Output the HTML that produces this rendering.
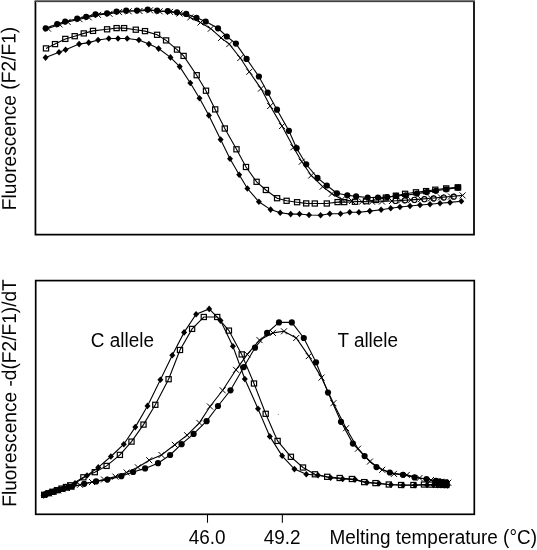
<!DOCTYPE html>
<html><head><meta charset="utf-8"><title>Melting curves</title>
<style>
html,body{margin:0;padding:0;background:#fff;}
body{width:537px;height:550px;position:relative;overflow:hidden;font-family:"Liberation Sans",sans-serif;}
</style></head><body>
<svg width="537" height="550" viewBox="0 0 537 550" style="position:absolute;left:0;top:0">
<path d="M35.45 1V234.65H474V1" fill="none" stroke="#000" stroke-width="1.75" stroke-linejoin="miter"/>
<path d="M34.6 0.5H474.9" fill="none" stroke="#787878" stroke-width="1"/><path d="M34.6 1.5H474.9" fill="none" stroke="#404040" stroke-width="1"/><path d="M36.4 2.5H473" fill="none" stroke="#e4e4e4" stroke-width="1"/>
<rect x="35.7" y="280.6" width="438.6" height="233.7" fill="none" stroke="#000" stroke-width="1.7"/>
<path d="M207.5 514V522.8M282.35 514V522.8" stroke="#000" stroke-width="1.05" fill="none"/>
<polyline fill="none" stroke="#000" stroke-width="1.1" points="46.0,48.4 55.0,44.1 65.3,38.9 74.7,36.2 83.8,33.4 93.0,30.9 107.1,29.3 116.6,28.1 124.1,28.1 135.8,29.7 145.0,31.1 157.1,34.8 166.1,40.4 177.0,49.6 183.6,55.9 196.7,75.2 206.0,90.7 215.2,109.4 224.8,128.5 236.5,149.3 246.0,167.0 256.6,181.8 265.9,190.0 277.1,198.2 286.6,200.8 297.1,202.2 306.2,203.4 314.8,203.5 326.8,203.5 337.6,202.1 344.2,202.1 355.0,201.8 366.0,201.2 376.0,200.0 385.9,197.6 395.9,195.7 405.1,193.8 416.0,192.3 426.1,191.1 435.3,189.7 446.2,188.4 457.9,187.4"/>
<rect x="43.40" y="45.85" width="5.20" height="5.10" fill="none" stroke="#000" stroke-width="1.2"/><rect x="52.40" y="41.55" width="5.20" height="5.10" fill="none" stroke="#000" stroke-width="1.2"/><rect x="62.70" y="36.35" width="5.20" height="5.10" fill="none" stroke="#000" stroke-width="1.2"/><rect x="72.10" y="33.65" width="5.20" height="5.10" fill="none" stroke="#000" stroke-width="1.2"/><rect x="81.20" y="30.85" width="5.20" height="5.10" fill="none" stroke="#000" stroke-width="1.2"/><rect x="90.40" y="28.35" width="5.20" height="5.10" fill="none" stroke="#000" stroke-width="1.2"/><rect x="104.50" y="26.75" width="5.20" height="5.10" fill="none" stroke="#000" stroke-width="1.2"/><rect x="114.00" y="25.55" width="5.20" height="5.10" fill="none" stroke="#000" stroke-width="1.2"/><rect x="121.50" y="25.55" width="5.20" height="5.10" fill="none" stroke="#000" stroke-width="1.2"/><rect x="133.20" y="27.15" width="5.20" height="5.10" fill="none" stroke="#000" stroke-width="1.2"/><rect x="142.40" y="28.55" width="5.20" height="5.10" fill="none" stroke="#000" stroke-width="1.2"/><rect x="154.50" y="32.25" width="5.20" height="5.10" fill="none" stroke="#000" stroke-width="1.2"/><rect x="163.50" y="37.85" width="5.20" height="5.10" fill="none" stroke="#000" stroke-width="1.2"/><rect x="174.40" y="47.05" width="5.20" height="5.10" fill="none" stroke="#000" stroke-width="1.2"/><rect x="181.00" y="53.35" width="5.20" height="5.10" fill="none" stroke="#000" stroke-width="1.2"/><rect x="194.10" y="72.65" width="5.20" height="5.10" fill="none" stroke="#000" stroke-width="1.2"/><rect x="203.40" y="88.15" width="5.20" height="5.10" fill="none" stroke="#000" stroke-width="1.2"/><rect x="212.60" y="106.85" width="5.20" height="5.10" fill="none" stroke="#000" stroke-width="1.2"/><rect x="222.20" y="125.95" width="5.20" height="5.10" fill="none" stroke="#000" stroke-width="1.2"/><rect x="233.90" y="146.75" width="5.20" height="5.10" fill="none" stroke="#000" stroke-width="1.2"/><rect x="243.40" y="164.45" width="5.20" height="5.10" fill="none" stroke="#000" stroke-width="1.2"/><rect x="254.00" y="179.25" width="5.20" height="5.10" fill="none" stroke="#000" stroke-width="1.2"/><rect x="263.30" y="187.45" width="5.20" height="5.10" fill="none" stroke="#000" stroke-width="1.2"/><rect x="274.50" y="195.65" width="5.20" height="5.10" fill="none" stroke="#000" stroke-width="1.2"/><rect x="284.00" y="198.25" width="5.20" height="5.10" fill="none" stroke="#000" stroke-width="1.2"/><rect x="294.50" y="199.65" width="5.20" height="5.10" fill="none" stroke="#000" stroke-width="1.2"/><rect x="303.60" y="200.85" width="5.20" height="5.10" fill="none" stroke="#000" stroke-width="1.2"/><rect x="312.20" y="200.95" width="5.20" height="5.10" fill="none" stroke="#000" stroke-width="1.2"/><rect x="324.20" y="200.95" width="5.20" height="5.10" fill="none" stroke="#000" stroke-width="1.2"/><rect x="335.00" y="199.55" width="5.20" height="5.10" fill="none" stroke="#000" stroke-width="1.2"/><rect x="341.60" y="199.55" width="5.20" height="5.10" fill="none" stroke="#000" stroke-width="1.2"/><rect x="352.40" y="199.25" width="5.20" height="5.10" fill="none" stroke="#000" stroke-width="1.2"/><rect x="363.40" y="198.65" width="5.20" height="5.10" fill="none" stroke="#000" stroke-width="1.2"/><rect x="373.40" y="197.45" width="5.20" height="5.10" fill="none" stroke="#000" stroke-width="1.2"/><rect x="383.30" y="195.05" width="5.20" height="5.10" fill="none" stroke="#000" stroke-width="1.2"/><rect x="393.30" y="193.15" width="5.20" height="5.10" fill="none" stroke="#000" stroke-width="1.2"/><rect x="402.50" y="191.25" width="5.20" height="5.10" fill="none" stroke="#000" stroke-width="1.2"/><rect x="413.40" y="189.75" width="5.20" height="5.10" fill="none" stroke="#000" stroke-width="1.2"/><rect x="423.50" y="188.55" width="5.20" height="5.10" fill="none" stroke="#000" stroke-width="1.2"/><rect x="432.70" y="187.15" width="5.20" height="5.10" fill="none" stroke="#000" stroke-width="1.2"/><rect x="443.60" y="185.85" width="5.20" height="5.10" fill="none" stroke="#000" stroke-width="1.2"/><rect x="455.30" y="184.85" width="5.20" height="5.10" fill="none" stroke="#000" stroke-width="1.2"/>
<polyline fill="none" stroke="#000" stroke-width="1.1" points="45.6,57.6 59.0,52.3 65.6,49.8 79.1,44.1 88.7,42.6 98.1,40.0 108.8,38.5 118.0,38.5 127.2,38.5 138.9,40.0 148.9,44.1 158.6,48.6 170.5,57.4 179.7,66.6 190.3,83.0 199.5,98.2 208.9,115.4 220.6,139.6 230.0,158.8 239.2,174.8 247.4,188.5 258.9,201.8 270.6,209.6 280.2,212.7 290.7,214.1 299.5,214.0 309.0,215.0 320.6,215.2 329.8,213.8 340.5,213.8 349.7,212.3 358.9,212.3 369.8,211.1 381.1,209.7 390.7,208.2 399.9,207.0 410.0,206.0 420.0,205.0 430.0,204.2 440.0,203.3 450.0,202.4 461.3,201.3"/>
<path d="M42.6 57.6L45.6 54.3L48.6 57.6L45.6 60.9Z"/><path d="M56.0 52.3L59.0 49.0L62.0 52.3L59.0 55.6Z"/><path d="M62.6 49.8L65.6 46.5L68.6 49.8L65.6 53.1Z"/><path d="M76.1 44.1L79.1 40.8L82.1 44.1L79.1 47.4Z"/><path d="M85.7 42.6L88.7 39.3L91.7 42.6L88.7 45.9Z"/><path d="M95.1 40.0L98.1 36.7L101.1 40.0L98.1 43.3Z"/><path d="M105.8 38.5L108.8 35.2L111.8 38.5L108.8 41.8Z"/><path d="M115.0 38.5L118.0 35.2L121.0 38.5L118.0 41.8Z"/><path d="M124.2 38.5L127.2 35.2L130.2 38.5L127.2 41.8Z"/><path d="M135.9 40.0L138.9 36.7L141.9 40.0L138.9 43.3Z"/><path d="M145.9 44.1L148.9 40.8L151.9 44.1L148.9 47.4Z"/><path d="M155.6 48.6L158.6 45.3L161.6 48.6L158.6 51.9Z"/><path d="M167.5 57.4L170.5 54.1L173.5 57.4L170.5 60.7Z"/><path d="M176.7 66.6L179.7 63.3L182.7 66.6L179.7 69.9Z"/><path d="M187.3 83.0L190.3 79.7L193.3 83.0L190.3 86.3Z"/><path d="M196.5 98.2L199.5 94.9L202.5 98.2L199.5 101.5Z"/><path d="M205.9 115.4L208.9 112.1L211.9 115.4L208.9 118.7Z"/><path d="M217.6 139.6L220.6 136.3L223.6 139.6L220.6 142.9Z"/><path d="M227.0 158.8L230.0 155.5L233.0 158.8L230.0 162.1Z"/><path d="M236.2 174.8L239.2 171.5L242.2 174.8L239.2 178.1Z"/><path d="M244.4 188.5L247.4 185.2L250.4 188.5L247.4 191.8Z"/><path d="M255.9 201.8L258.9 198.5L261.9 201.8L258.9 205.1Z"/><path d="M267.6 209.6L270.6 206.3L273.6 209.6L270.6 212.9Z"/><path d="M277.2 212.7L280.2 209.4L283.2 212.7L280.2 216.0Z"/><path d="M287.7 214.1L290.7 210.8L293.7 214.1L290.7 217.4Z"/><path d="M296.5 214.0L299.5 210.7L302.5 214.0L299.5 217.3Z"/><path d="M306.0 215.0L309.0 211.7L312.0 215.0L309.0 218.3Z"/><path d="M317.6 215.2L320.6 211.9L323.6 215.2L320.6 218.5Z"/><path d="M326.8 213.8L329.8 210.5L332.8 213.8L329.8 217.1Z"/><path d="M337.5 213.8L340.5 210.5L343.5 213.8L340.5 217.1Z"/><path d="M346.7 212.3L349.7 209.0L352.7 212.3L349.7 215.6Z"/><path d="M355.9 212.3L358.9 209.0L361.9 212.3L358.9 215.6Z"/><path d="M366.8 211.1L369.8 207.8L372.8 211.1L369.8 214.4Z"/><path d="M378.1 209.7L381.1 206.4L384.1 209.7L381.1 213.0Z"/><path d="M387.7 208.2L390.7 204.9L393.7 208.2L390.7 211.5Z"/><path d="M396.9 207.0L399.9 203.7L402.9 207.0L399.9 210.3Z"/><path d="M407.0 206.0L410.0 202.7L413.0 206.0L410.0 209.3Z"/><path d="M417.0 205.0L420.0 201.7L423.0 205.0L420.0 208.3Z"/><path d="M427.0 204.2L430.0 200.9L433.0 204.2L430.0 207.5Z"/><path d="M437.0 203.3L440.0 200.0L443.0 203.3L440.0 206.6Z"/><path d="M447.0 202.4L450.0 199.1L453.0 202.4L450.0 205.7Z"/><path d="M458.3 201.3L461.3 198.0L464.3 201.3L461.3 204.6Z"/>
<polyline fill="none" stroke="#000" stroke-width="1.1" points="48.0,28.6 59.5,24.4 67.6,21.9 79.5,19.2 88.6,17.3 98.0,14.9 109.5,13.8 119.0,12.1 128.7,11.3 139.5,11.0 150.0,10.3 159.6,11.3 170.0,11.9 179.5,13.5 190.3,17.4 200.5,22.5 210.8,28.7 221.1,37.9 229.3,44.1 240.3,58.0 249.3,71.8 261.0,88.6 270.2,106.0 282.0,126.1 293.4,147.3 301.8,161.7 311.2,175.5 322.7,186.7 331.9,193.7 342.0,199.4 352.0,201.0 362.0,201.7 372.0,201.7 382.0,201.5 392.0,201.0 401.0,200.5 411.0,199.9 421.0,199.1 431.0,198.3 441.0,197.4 451.0,196.5 462.6,195.4"/>
<path d="M45.0 25.6L51.0 31.6M45.0 31.6L51.0 25.6" stroke="#000" stroke-width="1" fill="none"/><path d="M56.5 21.4L62.5 27.4M56.5 27.4L62.5 21.4" stroke="#000" stroke-width="1" fill="none"/><path d="M64.6 18.9L70.6 24.9M64.6 24.9L70.6 18.9" stroke="#000" stroke-width="1" fill="none"/><path d="M76.5 16.2L82.5 22.2M76.5 22.2L82.5 16.2" stroke="#000" stroke-width="1" fill="none"/><path d="M85.6 14.3L91.6 20.3M85.6 20.3L91.6 14.3" stroke="#000" stroke-width="1" fill="none"/><path d="M95.0 11.9L101.0 17.9M95.0 17.9L101.0 11.9" stroke="#000" stroke-width="1" fill="none"/><path d="M106.5 10.8L112.5 16.8M106.5 16.8L112.5 10.8" stroke="#000" stroke-width="1" fill="none"/><path d="M116.0 9.1L122.0 15.1M116.0 15.1L122.0 9.1" stroke="#000" stroke-width="1" fill="none"/><path d="M125.7 8.3L131.7 14.3M125.7 14.3L131.7 8.3" stroke="#000" stroke-width="1" fill="none"/><path d="M136.5 8.0L142.5 14.0M136.5 14.0L142.5 8.0" stroke="#000" stroke-width="1" fill="none"/><path d="M147.0 7.3L153.0 13.3M147.0 13.3L153.0 7.3" stroke="#000" stroke-width="1" fill="none"/><path d="M156.6 8.3L162.6 14.3M156.6 14.3L162.6 8.3" stroke="#000" stroke-width="1" fill="none"/><path d="M167.0 8.9L173.0 14.9M167.0 14.9L173.0 8.9" stroke="#000" stroke-width="1" fill="none"/><path d="M176.5 10.5L182.5 16.5M176.5 16.5L182.5 10.5" stroke="#000" stroke-width="1" fill="none"/><path d="M187.3 14.4L193.3 20.4M187.3 20.4L193.3 14.4" stroke="#000" stroke-width="1" fill="none"/><path d="M197.5 19.5L203.5 25.5M197.5 25.5L203.5 19.5" stroke="#000" stroke-width="1" fill="none"/><path d="M207.8 25.7L213.8 31.7M207.8 31.7L213.8 25.7" stroke="#000" stroke-width="1" fill="none"/><path d="M218.1 34.9L224.1 40.9M218.1 40.9L224.1 34.9" stroke="#000" stroke-width="1" fill="none"/><path d="M226.3 41.1L232.3 47.1M226.3 47.1L232.3 41.1" stroke="#000" stroke-width="1" fill="none"/><path d="M237.3 55.0L243.3 61.0M237.3 61.0L243.3 55.0" stroke="#000" stroke-width="1" fill="none"/><path d="M246.3 68.8L252.3 74.8M246.3 74.8L252.3 68.8" stroke="#000" stroke-width="1" fill="none"/><path d="M258.0 85.6L264.0 91.6M258.0 91.6L264.0 85.6" stroke="#000" stroke-width="1" fill="none"/><path d="M267.2 103.0L273.2 109.0M267.2 109.0L273.2 103.0" stroke="#000" stroke-width="1" fill="none"/><path d="M279.0 123.1L285.0 129.1M279.0 129.1L285.0 123.1" stroke="#000" stroke-width="1" fill="none"/><path d="M290.4 144.3L296.4 150.3M290.4 150.3L296.4 144.3" stroke="#000" stroke-width="1" fill="none"/><path d="M298.8 158.7L304.8 164.7M298.8 164.7L304.8 158.7" stroke="#000" stroke-width="1" fill="none"/><path d="M308.2 172.5L314.2 178.5M308.2 178.5L314.2 172.5" stroke="#000" stroke-width="1" fill="none"/><path d="M319.7 183.7L325.7 189.7M319.7 189.7L325.7 183.7" stroke="#000" stroke-width="1" fill="none"/><path d="M328.9 190.7L334.9 196.7M328.9 196.7L334.9 190.7" stroke="#000" stroke-width="1" fill="none"/><path d="M339.0 196.4L345.0 202.4M339.0 202.4L345.0 196.4" stroke="#000" stroke-width="1" fill="none"/><path d="M349.0 198.0L355.0 204.0M349.0 204.0L355.0 198.0" stroke="#000" stroke-width="1" fill="none"/><path d="M359.0 198.7L365.0 204.7M359.0 204.7L365.0 198.7" stroke="#000" stroke-width="1" fill="none"/><path d="M369.0 198.7L375.0 204.7M369.0 204.7L375.0 198.7" stroke="#000" stroke-width="1" fill="none"/><path d="M379.0 198.5L385.0 204.5M379.0 204.5L385.0 198.5" stroke="#000" stroke-width="1" fill="none"/><path d="M389.0 198.0L395.0 204.0M389.0 204.0L395.0 198.0" stroke="#000" stroke-width="1" fill="none"/><path d="M398.0 197.5L404.0 203.5M398.0 203.5L404.0 197.5" stroke="#000" stroke-width="1" fill="none"/><path d="M408.0 196.9L414.0 202.9M408.0 202.9L414.0 196.9" stroke="#000" stroke-width="1" fill="none"/><path d="M418.0 196.1L424.0 202.1M418.0 202.1L424.0 196.1" stroke="#000" stroke-width="1" fill="none"/><path d="M428.0 195.3L434.0 201.3M428.0 201.3L434.0 195.3" stroke="#000" stroke-width="1" fill="none"/><path d="M438.0 194.4L444.0 200.4M438.0 200.4L444.0 194.4" stroke="#000" stroke-width="1" fill="none"/><path d="M448.0 193.5L454.0 199.5M448.0 199.5L454.0 193.5" stroke="#000" stroke-width="1" fill="none"/><path d="M459.6 192.4L465.6 198.4M459.6 198.4L465.6 192.4" stroke="#000" stroke-width="1" fill="none"/>
<polyline fill="none" stroke="#000" stroke-width="1.1" points="45.7,28.3 57.2,24.1 65.2,21.5 77.2,18.7 86.2,16.8 95.5,14.3 107.1,13.3 116.6,11.5 126.2,10.7 137.0,10.5 147.7,9.6 157.1,10.7 167.8,11.1 177.0,12.3 186.2,13.9 196.5,17.8 205.7,21.5 218.0,28.3 226.8,36.5 235.9,43.6 246.6,58.9 258.9,76.5 267.7,92.7 277.0,109.7 288.9,130.8 296.6,148.2 306.2,164.3 317.5,177.9 326.8,185.5 337.0,193.3 347.3,195.3 356.1,196.4 367.7,197.5 378.0,197.5 387.2,197.1 396.4,195.8 405.9,195.3 416.9,193.6 426.7,192.1 435.9,190.8 446.3,189.3 458.0,187.6"/>
<circle cx="45.7" cy="28.3" r="3.1"/><circle cx="57.2" cy="24.1" r="3.1"/><circle cx="65.2" cy="21.5" r="3.1"/><circle cx="77.2" cy="18.7" r="3.1"/><circle cx="86.2" cy="16.8" r="3.1"/><circle cx="95.5" cy="14.3" r="3.1"/><circle cx="107.1" cy="13.3" r="3.1"/><circle cx="116.6" cy="11.5" r="3.1"/><circle cx="126.2" cy="10.7" r="3.1"/><circle cx="137.0" cy="10.5" r="3.1"/><circle cx="147.7" cy="9.6" r="3.1"/><circle cx="157.1" cy="10.7" r="3.1"/><circle cx="167.8" cy="11.1" r="3.1"/><circle cx="177.0" cy="12.3" r="3.1"/><circle cx="186.2" cy="13.9" r="3.1"/><circle cx="196.5" cy="17.8" r="3.1"/><circle cx="205.7" cy="21.5" r="3.1"/><circle cx="218.0" cy="28.3" r="3.1"/><circle cx="226.8" cy="36.5" r="3.1"/><circle cx="235.9" cy="43.6" r="3.1"/><circle cx="246.6" cy="58.9" r="3.1"/><circle cx="258.9" cy="76.5" r="3.1"/><circle cx="267.7" cy="92.7" r="3.1"/><circle cx="277.0" cy="109.7" r="3.1"/><circle cx="288.9" cy="130.8" r="3.1"/><circle cx="296.6" cy="148.2" r="3.1"/><circle cx="306.2" cy="164.3" r="3.1"/><circle cx="317.5" cy="177.9" r="3.1"/><circle cx="326.8" cy="185.5" r="3.1"/><circle cx="337.0" cy="193.3" r="3.1"/><circle cx="347.3" cy="195.3" r="3.1"/><circle cx="356.1" cy="196.4" r="3.1"/><circle cx="367.7" cy="197.5" r="3.1"/><circle cx="378.0" cy="197.5" r="3.1"/><circle cx="387.2" cy="197.1" r="3.1"/><circle cx="396.4" cy="195.8" r="3.1"/><circle cx="405.9" cy="195.3" r="3.1"/><circle cx="416.9" cy="193.6" r="3.1"/><circle cx="426.7" cy="192.1" r="3.1"/><circle cx="435.9" cy="190.8" r="3.1"/><circle cx="446.3" cy="189.3" r="3.1"/><circle cx="458.0" cy="187.6" r="3.1"/>
<polyline fill="none" stroke="#000" stroke-width="1.1" points="44.2,494.8 48.5,493.2 52.5,491.8 57.0,490.2 61.5,488.6 66.0,487.0 70.3,485.3 83.4,477.3 94.8,472.2 106.6,465.9 119.9,454.9 131.5,441.6 143.5,424.6 155.3,404.8 168.6,379.2 180.0,350.0 192.1,328.9 203.8,317.0 217.2,317.0 228.9,330.6 241.7,354.4 254.0,383.5 265.7,413.8 277.6,440.9 290.9,456.8 303.0,467.5 314.9,474.3 327.2,476.8 339.7,478.0 351.9,479.0 364.2,482.1 375.5,483.1 388.8,484.5 401.1,485.0 413.4,485.0 424.0,484.5 430.5,484.6 436.0,484.7 439.5,484.8 443.0,484.9 446.3,485.0"/>
<rect x="41.60" y="492.25" width="5.20" height="5.10" fill="none" stroke="#000" stroke-width="1.2"/><rect x="45.90" y="490.65" width="5.20" height="5.10" fill="none" stroke="#000" stroke-width="1.2"/><rect x="49.90" y="489.25" width="5.20" height="5.10" fill="none" stroke="#000" stroke-width="1.2"/><rect x="54.40" y="487.65" width="5.20" height="5.10" fill="none" stroke="#000" stroke-width="1.2"/><rect x="58.90" y="486.05" width="5.20" height="5.10" fill="none" stroke="#000" stroke-width="1.2"/><rect x="63.40" y="484.45" width="5.20" height="5.10" fill="none" stroke="#000" stroke-width="1.2"/><rect x="67.70" y="482.75" width="5.20" height="5.10" fill="none" stroke="#000" stroke-width="1.2"/><rect x="80.80" y="474.75" width="5.20" height="5.10" fill="none" stroke="#000" stroke-width="1.2"/><rect x="92.20" y="469.65" width="5.20" height="5.10" fill="none" stroke="#000" stroke-width="1.2"/><rect x="104.00" y="463.35" width="5.20" height="5.10" fill="none" stroke="#000" stroke-width="1.2"/><rect x="117.30" y="452.35" width="5.20" height="5.10" fill="none" stroke="#000" stroke-width="1.2"/><rect x="128.90" y="439.05" width="5.20" height="5.10" fill="none" stroke="#000" stroke-width="1.2"/><rect x="140.90" y="422.05" width="5.20" height="5.10" fill="none" stroke="#000" stroke-width="1.2"/><rect x="152.70" y="402.25" width="5.20" height="5.10" fill="none" stroke="#000" stroke-width="1.2"/><rect x="166.00" y="376.65" width="5.20" height="5.10" fill="none" stroke="#000" stroke-width="1.2"/><rect x="177.40" y="347.45" width="5.20" height="5.10" fill="none" stroke="#000" stroke-width="1.2"/><rect x="189.50" y="326.35" width="5.20" height="5.10" fill="none" stroke="#000" stroke-width="1.2"/><rect x="201.20" y="314.45" width="5.20" height="5.10" fill="none" stroke="#000" stroke-width="1.2"/><rect x="214.60" y="314.45" width="5.20" height="5.10" fill="none" stroke="#000" stroke-width="1.2"/><rect x="226.30" y="328.05" width="5.20" height="5.10" fill="none" stroke="#000" stroke-width="1.2"/><rect x="239.10" y="351.85" width="5.20" height="5.10" fill="none" stroke="#000" stroke-width="1.2"/><rect x="251.40" y="380.95" width="5.20" height="5.10" fill="none" stroke="#000" stroke-width="1.2"/><rect x="263.10" y="411.25" width="5.20" height="5.10" fill="none" stroke="#000" stroke-width="1.2"/><rect x="275.00" y="438.35" width="5.20" height="5.10" fill="none" stroke="#000" stroke-width="1.2"/><rect x="288.30" y="454.25" width="5.20" height="5.10" fill="none" stroke="#000" stroke-width="1.2"/><rect x="300.40" y="464.95" width="5.20" height="5.10" fill="none" stroke="#000" stroke-width="1.2"/><rect x="312.30" y="471.75" width="5.20" height="5.10" fill="none" stroke="#000" stroke-width="1.2"/><rect x="324.60" y="474.25" width="5.20" height="5.10" fill="none" stroke="#000" stroke-width="1.2"/><rect x="337.10" y="475.45" width="5.20" height="5.10" fill="none" stroke="#000" stroke-width="1.2"/><rect x="349.30" y="476.45" width="5.20" height="5.10" fill="none" stroke="#000" stroke-width="1.2"/><rect x="361.60" y="479.55" width="5.20" height="5.10" fill="none" stroke="#000" stroke-width="1.2"/><rect x="372.90" y="480.55" width="5.20" height="5.10" fill="none" stroke="#000" stroke-width="1.2"/><rect x="386.20" y="481.95" width="5.20" height="5.10" fill="none" stroke="#000" stroke-width="1.2"/><rect x="398.50" y="482.45" width="5.20" height="5.10" fill="none" stroke="#000" stroke-width="1.2"/><rect x="410.80" y="482.45" width="5.20" height="5.10" fill="none" stroke="#000" stroke-width="1.2"/><rect x="421.40" y="481.95" width="5.20" height="5.10" fill="none" stroke="#000" stroke-width="1.2"/><rect x="427.90" y="482.05" width="5.20" height="5.10" fill="none" stroke="#000" stroke-width="1.2"/><rect x="433.40" y="482.15" width="5.20" height="5.10" fill="none" stroke="#000" stroke-width="1.2"/><rect x="436.90" y="482.25" width="5.20" height="5.10" fill="none" stroke="#000" stroke-width="1.2"/><rect x="440.40" y="482.35" width="5.20" height="5.10" fill="none" stroke="#000" stroke-width="1.2"/><rect x="443.70" y="482.45" width="5.20" height="5.10" fill="none" stroke="#000" stroke-width="1.2"/>
<polyline fill="none" stroke="#000" stroke-width="1.1" points="43.6,495.4 47.5,494.0 51.5,492.4 55.5,491.0 59.5,489.5 64.0,488.0 68.5,486.2 75.0,483.2 87.0,475.5 98.3,467.4 110.9,456.5 123.8,444.2 135.3,427.1 147.5,405.9 160.4,379.8 172.3,355.2 184.1,332.4 196.1,314.3 209.2,308.9 220.5,320.6 232.9,346.2 244.8,379.0 258.0,408.7 269.8,436.4 282.1,455.8 294.4,469.1 306.3,474.3 318.0,475.3 330.6,477.8 342.7,479.0 355.0,479.6 367.0,482.5 379.0,483.5 391.0,484.7 403.0,485.2 415.0,485.2 427.0,485.0 433.5,485.0 437.5,485.1 441.0,485.2 444.5,485.3 447.5,485.5"/>
<path d="M40.6 495.4L43.6 492.1L46.6 495.4L43.6 498.7Z"/><path d="M44.5 494.0L47.5 490.7L50.5 494.0L47.5 497.3Z"/><path d="M48.5 492.4L51.5 489.1L54.5 492.4L51.5 495.7Z"/><path d="M52.5 491.0L55.5 487.7L58.5 491.0L55.5 494.3Z"/><path d="M56.5 489.5L59.5 486.2L62.5 489.5L59.5 492.8Z"/><path d="M61.0 488.0L64.0 484.7L67.0 488.0L64.0 491.3Z"/><path d="M65.5 486.2L68.5 482.9L71.5 486.2L68.5 489.5Z"/><path d="M72.0 483.2L75.0 479.9L78.0 483.2L75.0 486.5Z"/><path d="M84.0 475.5L87.0 472.2L90.0 475.5L87.0 478.8Z"/><path d="M95.3 467.4L98.3 464.1L101.3 467.4L98.3 470.7Z"/><path d="M107.9 456.5L110.9 453.2L113.9 456.5L110.9 459.8Z"/><path d="M120.8 444.2L123.8 440.9L126.8 444.2L123.8 447.5Z"/><path d="M132.3 427.1L135.3 423.8L138.3 427.1L135.3 430.4Z"/><path d="M144.5 405.9L147.5 402.6L150.5 405.9L147.5 409.2Z"/><path d="M157.4 379.8L160.4 376.5L163.4 379.8L160.4 383.1Z"/><path d="M169.3 355.2L172.3 351.9L175.3 355.2L172.3 358.5Z"/><path d="M181.1 332.4L184.1 329.1L187.1 332.4L184.1 335.7Z"/><path d="M193.1 314.3L196.1 311.0L199.1 314.3L196.1 317.6Z"/><path d="M206.2 308.9L209.2 305.6L212.2 308.9L209.2 312.2Z"/><path d="M217.5 320.6L220.5 317.3L223.5 320.6L220.5 323.9Z"/><path d="M229.9 346.2L232.9 342.9L235.9 346.2L232.9 349.5Z"/><path d="M241.8 379.0L244.8 375.7L247.8 379.0L244.8 382.3Z"/><path d="M255.0 408.7L258.0 405.4L261.0 408.7L258.0 412.0Z"/><path d="M266.8 436.4L269.8 433.1L272.8 436.4L269.8 439.7Z"/><path d="M279.1 455.8L282.1 452.5L285.1 455.8L282.1 459.1Z"/><path d="M291.4 469.1L294.4 465.8L297.4 469.1L294.4 472.4Z"/><path d="M303.3 474.3L306.3 471.0L309.3 474.3L306.3 477.6Z"/><path d="M315.0 475.3L318.0 472.0L321.0 475.3L318.0 478.6Z"/><path d="M327.6 477.8L330.6 474.5L333.6 477.8L330.6 481.1Z"/><path d="M339.7 479.0L342.7 475.7L345.7 479.0L342.7 482.3Z"/><path d="M352.0 479.6L355.0 476.3L358.0 479.6L355.0 482.9Z"/><path d="M364.0 482.5L367.0 479.2L370.0 482.5L367.0 485.8Z"/><path d="M376.0 483.5L379.0 480.2L382.0 483.5L379.0 486.8Z"/><path d="M388.0 484.7L391.0 481.4L394.0 484.7L391.0 488.0Z"/><path d="M400.0 485.2L403.0 481.9L406.0 485.2L403.0 488.5Z"/><path d="M412.0 485.2L415.0 481.9L418.0 485.2L415.0 488.5Z"/><path d="M424.0 485.0L427.0 481.7L430.0 485.0L427.0 488.3Z"/><path d="M430.5 485.0L433.5 481.7L436.5 485.0L433.5 488.3Z"/><path d="M434.5 485.1L437.5 481.8L440.5 485.1L437.5 488.4Z"/><path d="M438.0 485.2L441.0 481.9L444.0 485.2L441.0 488.5Z"/><path d="M441.5 485.3L444.5 482.0L447.5 485.3L444.5 488.6Z"/><path d="M444.5 485.5L447.5 482.2L450.5 485.5L447.5 488.8Z"/>
<polyline fill="none" stroke="#000" stroke-width="1.1" points="44.0,495.0 49.0,493.3 53.5,491.8 58.0,490.4 62.5,489.2 67.0,488.0 71.5,487.0 80.0,484.8 92.0,482.0 104.0,479.5 115.4,476.6 126.6,472.5 137.9,467.3 149.2,460.2 161.5,455.0 174.8,444.8 187.1,435.2 199.4,422.9 210.0,406.5 222.7,390.3 236.0,369.8 247.3,354.4 259.5,340.1 272.9,332.9 284.0,331.3 296.2,338.0 308.8,356.1 321.5,377.6 333.4,403.2 346.1,428.2 358.0,448.7 369.9,461.6 382.2,469.8 393.9,473.9 406.8,474.9 419.5,478.0 431.0,480.0 437.5,481.1 441.0,481.7 444.5,482.2 448.3,482.7"/>
<path d="M41.0 492.0L47.0 498.0M41.0 498.0L47.0 492.0" stroke="#000" stroke-width="1" fill="none"/><path d="M46.0 490.3L52.0 496.3M46.0 496.3L52.0 490.3" stroke="#000" stroke-width="1" fill="none"/><path d="M50.5 488.8L56.5 494.8M50.5 494.8L56.5 488.8" stroke="#000" stroke-width="1" fill="none"/><path d="M55.0 487.4L61.0 493.4M55.0 493.4L61.0 487.4" stroke="#000" stroke-width="1" fill="none"/><path d="M59.5 486.2L65.5 492.2M59.5 492.2L65.5 486.2" stroke="#000" stroke-width="1" fill="none"/><path d="M64.0 485.0L70.0 491.0M64.0 491.0L70.0 485.0" stroke="#000" stroke-width="1" fill="none"/><path d="M68.5 484.0L74.5 490.0M68.5 490.0L74.5 484.0" stroke="#000" stroke-width="1" fill="none"/><path d="M77.0 481.8L83.0 487.8M77.0 487.8L83.0 481.8" stroke="#000" stroke-width="1" fill="none"/><path d="M89.0 479.0L95.0 485.0M89.0 485.0L95.0 479.0" stroke="#000" stroke-width="1" fill="none"/><path d="M101.0 476.5L107.0 482.5M101.0 482.5L107.0 476.5" stroke="#000" stroke-width="1" fill="none"/><path d="M112.4 473.6L118.4 479.6M112.4 479.6L118.4 473.6" stroke="#000" stroke-width="1" fill="none"/><path d="M123.6 469.5L129.6 475.5M123.6 475.5L129.6 469.5" stroke="#000" stroke-width="1" fill="none"/><path d="M134.9 464.3L140.9 470.3M134.9 470.3L140.9 464.3" stroke="#000" stroke-width="1" fill="none"/><path d="M146.2 457.2L152.2 463.2M146.2 463.2L152.2 457.2" stroke="#000" stroke-width="1" fill="none"/><path d="M158.5 452.0L164.5 458.0M158.5 458.0L164.5 452.0" stroke="#000" stroke-width="1" fill="none"/><path d="M171.8 441.8L177.8 447.8M171.8 447.8L177.8 441.8" stroke="#000" stroke-width="1" fill="none"/><path d="M184.1 432.2L190.1 438.2M184.1 438.2L190.1 432.2" stroke="#000" stroke-width="1" fill="none"/><path d="M196.4 419.9L202.4 425.9M196.4 425.9L202.4 419.9" stroke="#000" stroke-width="1" fill="none"/><path d="M207.0 403.5L213.0 409.5M207.0 409.5L213.0 403.5" stroke="#000" stroke-width="1" fill="none"/><path d="M219.7 387.3L225.7 393.3M219.7 393.3L225.7 387.3" stroke="#000" stroke-width="1" fill="none"/><path d="M233.0 366.8L239.0 372.8M233.0 372.8L239.0 366.8" stroke="#000" stroke-width="1" fill="none"/><path d="M244.3 351.4L250.3 357.4M244.3 357.4L250.3 351.4" stroke="#000" stroke-width="1" fill="none"/><path d="M256.5 337.1L262.5 343.1M256.5 343.1L262.5 337.1" stroke="#000" stroke-width="1" fill="none"/><path d="M269.9 329.9L275.9 335.9M269.9 335.9L275.9 329.9" stroke="#000" stroke-width="1" fill="none"/><path d="M281.0 328.3L287.0 334.3M281.0 334.3L287.0 328.3" stroke="#000" stroke-width="1" fill="none"/><path d="M293.2 335.0L299.2 341.0M293.2 341.0L299.2 335.0" stroke="#000" stroke-width="1" fill="none"/><path d="M305.8 353.1L311.8 359.1M305.8 359.1L311.8 353.1" stroke="#000" stroke-width="1" fill="none"/><path d="M318.5 374.6L324.5 380.6M318.5 380.6L324.5 374.6" stroke="#000" stroke-width="1" fill="none"/><path d="M330.4 400.2L336.4 406.2M330.4 406.2L336.4 400.2" stroke="#000" stroke-width="1" fill="none"/><path d="M343.1 425.2L349.1 431.2M343.1 431.2L349.1 425.2" stroke="#000" stroke-width="1" fill="none"/><path d="M355.0 445.7L361.0 451.7M355.0 451.7L361.0 445.7" stroke="#000" stroke-width="1" fill="none"/><path d="M366.9 458.6L372.9 464.6M366.9 464.6L372.9 458.6" stroke="#000" stroke-width="1" fill="none"/><path d="M379.2 466.8L385.2 472.8M379.2 472.8L385.2 466.8" stroke="#000" stroke-width="1" fill="none"/><path d="M390.9 470.9L396.9 476.9M390.9 476.9L396.9 470.9" stroke="#000" stroke-width="1" fill="none"/><path d="M403.8 471.9L409.8 477.9M403.8 477.9L409.8 471.9" stroke="#000" stroke-width="1" fill="none"/><path d="M416.5 475.0L422.5 481.0M416.5 481.0L422.5 475.0" stroke="#000" stroke-width="1" fill="none"/><path d="M428.0 477.0L434.0 483.0M428.0 483.0L434.0 477.0" stroke="#000" stroke-width="1" fill="none"/><path d="M434.5 478.1L440.5 484.1M434.5 484.1L440.5 478.1" stroke="#000" stroke-width="1" fill="none"/><path d="M438.0 478.7L444.0 484.7M438.0 484.7L444.0 478.7" stroke="#000" stroke-width="1" fill="none"/><path d="M441.5 479.2L447.5 485.2M441.5 485.2L447.5 479.2" stroke="#000" stroke-width="1" fill="none"/><path d="M445.3 479.7L451.3 485.7M445.3 485.7L451.3 479.7" stroke="#000" stroke-width="1" fill="none"/>
<polyline fill="none" stroke="#000" stroke-width="1.1" points="45.5,494.0 50.0,492.6 54.5,491.3 59.0,490.0 63.5,488.8 67.8,487.7 72.0,486.7 84.2,483.8 96.1,481.4 107.4,479.6 121.3,476.2 133.1,472.0 145.1,468.4 158.0,463.2 170.1,455.0 181.6,444.2 193.6,433.9 206.6,421.2 218.0,406.0 230.5,390.3 243.8,367.1 255.0,347.7 267.1,332.9 279.0,322.4 291.8,322.4 303.8,338.0 316.0,362.3 328.0,392.6 341.0,421.8 352.9,443.6 364.6,456.1 376.5,467.1 389.8,472.5 402.9,474.8 414.6,477.4 426.5,479.0 436.0,480.9 439.5,481.5 443.0,482.0 446.5,482.4"/>
<circle cx="45.5" cy="494.0" r="3.1"/><circle cx="50.0" cy="492.6" r="3.1"/><circle cx="54.5" cy="491.3" r="3.1"/><circle cx="59.0" cy="490.0" r="3.1"/><circle cx="63.5" cy="488.8" r="3.1"/><circle cx="67.8" cy="487.7" r="3.1"/><circle cx="72.0" cy="486.7" r="3.1"/><circle cx="84.2" cy="483.8" r="3.1"/><circle cx="96.1" cy="481.4" r="3.1"/><circle cx="107.4" cy="479.6" r="3.1"/><circle cx="121.3" cy="476.2" r="3.1"/><circle cx="133.1" cy="472.0" r="3.1"/><circle cx="145.1" cy="468.4" r="3.1"/><circle cx="158.0" cy="463.2" r="3.1"/><circle cx="170.1" cy="455.0" r="3.1"/><circle cx="181.6" cy="444.2" r="3.1"/><circle cx="193.6" cy="433.9" r="3.1"/><circle cx="206.6" cy="421.2" r="3.1"/><circle cx="218.0" cy="406.0" r="3.1"/><circle cx="230.5" cy="390.3" r="3.1"/><circle cx="243.8" cy="367.1" r="3.1"/><circle cx="255.0" cy="347.7" r="3.1"/><circle cx="267.1" cy="332.9" r="3.1"/><circle cx="279.0" cy="322.4" r="3.1"/><circle cx="291.8" cy="322.4" r="3.1"/><circle cx="303.8" cy="338.0" r="3.1"/><circle cx="316.0" cy="362.3" r="3.1"/><circle cx="328.0" cy="392.6" r="3.1"/><circle cx="341.0" cy="421.8" r="3.1"/><circle cx="352.9" cy="443.6" r="3.1"/><circle cx="364.6" cy="456.1" r="3.1"/><circle cx="376.5" cy="467.1" r="3.1"/><circle cx="389.8" cy="472.5" r="3.1"/><circle cx="402.9" cy="474.8" r="3.1"/><circle cx="414.6" cy="477.4" r="3.1"/><circle cx="426.5" cy="479.0" r="3.1"/><circle cx="436.0" cy="480.9" r="3.1"/><circle cx="439.5" cy="481.5" r="3.1"/><circle cx="443.0" cy="482.0" r="3.1"/><circle cx="446.5" cy="482.4" r="3.1"/>
<rect x="454.7" y="184.6" width="6.5" height="5.8"/>
<circle cx="395.5" cy="200.9" r="2.6" fill="none" stroke="#000" stroke-width="1.1"/><circle cx="405.1" cy="200.3" r="2.6" fill="none" stroke="#000" stroke-width="1.1"/><circle cx="414.4" cy="199.9" r="2.6" fill="none" stroke="#000" stroke-width="1.1"/><circle cx="424.4" cy="199.2" r="2.6" fill="none" stroke="#000" stroke-width="1.1"/><circle cx="433.6" cy="198.5" r="2.6" fill="none" stroke="#000" stroke-width="1.1"/><circle cx="443.7" cy="197.6" r="2.6" fill="none" stroke="#000" stroke-width="1.1"/><circle cx="453.7" cy="196.7" r="2.6" fill="none" stroke="#000" stroke-width="1.1"/>
<circle cx="278.4" cy="414.4" r="0.6" fill="#999"/>
<g opacity="0.99">
<text font-family="Liberation Sans, sans-serif" font-size="20.0" fill="#000" transform="translate(16.1,210.2) rotate(-90.24) scale(0.96,1)">Fluorescence (F2/F1)</text>
<text font-family="Liberation Sans, sans-serif" font-size="20.0" fill="#000" transform="translate(16.3,506.7) rotate(-90.08) scale(0.957,1)">Fluorescence -d(F2/F1)/dT</text>
<text font-family="Liberation Sans, sans-serif" font-size="20.0" fill="#000" transform="translate(90.8,347.2) scale(0.947,1)">C allele</text>
<text font-family="Liberation Sans, sans-serif" font-size="20.0" fill="#000" transform="translate(337.4,347.2) scale(0.947,1)">T allele</text>
<text font-family="Liberation Sans, sans-serif" font-size="20.0" fill="#000" transform="translate(188.8,543.8) scale(0.947,1)">46.0</text>
<text font-family="Liberation Sans, sans-serif" font-size="20.0" fill="#000" transform="translate(263.7,543.8) scale(0.947,1)">49.2</text>
<text font-family="Liberation Sans, sans-serif" font-size="20.0" fill="#000" transform="translate(329.5,543.6) scale(0.947,1)">Melting temperature (°C)</text>
</g>
</svg>
</body></html>
